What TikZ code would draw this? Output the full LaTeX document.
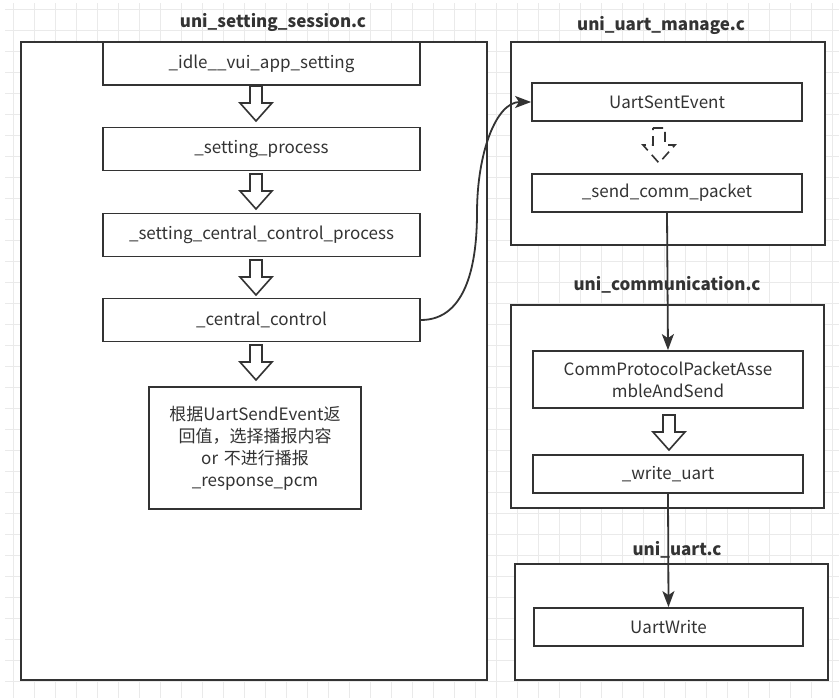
\documentclass[tikz,border=0pt]{standalone}
\usepackage{fontspec}
\setmainfont{Noto Sans CJK SC}
\usetikzlibrary{arrows.meta}
\definecolor{ink}{HTML}{333333}
\definecolor{gridc}{HTML}{EAEAEA}
\begin{document}
\begin{tikzpicture}[x=1pt,y=-1pt,
  container/.style={draw=ink, line width=1.8pt, fill=white, inner sep=0pt},
  fnbox/.style={draw=ink, line width=1.8pt, fill=white, inner sep=0pt,
    font=\fontsize{17}{22}\selectfont, text=ink, align=center},
  title/.style={font=\bfseries\fontsize{17}{20}\selectfont, text=ink, inner sep=0pt},
  conn/.style={draw=ink, line width=1.8pt, -{Stealth[length=16pt,width=12pt,inset=4pt]}},
  barrow/.pic={\draw[draw=ink, line width=1.6pt, fill=white, line join=miter]
    (-6,0) -- (6,0) -- (6,17) -- (16,17) -- (0,35) -- (-16,17) -- (-6,17) -- cycle;}
]
\useasboundingbox (0,0) rectangle (839,698);
% grid
\foreach \gx in {13,34,...,835} \draw[gridc, line width=0.8pt] (\gx,3) -- (\gx,698);
\foreach \gy in {9,30,...,698} \draw[gridc, line width=0.8pt] (5,\gy) -- (839,\gy);

% containers
\node[container, minimum width=466pt, minimum height=638pt] (left) at (254,361) {};
\node[container, minimum width=314pt, minimum height=203pt] (manage) at (668,143.5) {};
\node[container, minimum width=313pt, minimum height=203pt] (comm) at (667.5,406.5) {};
\node[container, minimum width=313pt, minimum height=116pt] (uart) at (671.5,622) {};

% titles
\node[title] (t1) at (273,22) {uni\_setting\_session.c};
\node[title] (t2) at (661,25) {uni\_uart\_manage.c};
\node[title] (t3) at (667,285) {uni\_communication.c};
\node[title] (t4) at (677,550) {uni\_uart.c};

% left column
\node[fnbox, minimum width=317pt, minimum height=43pt] (idle) at (261.5,63.5) {\_idle\_\_vui\_app\_setting};
\node[fnbox, minimum width=317pt, minimum height=43pt] (sp) at (261.5,149) {\_setting\_process};
\node[fnbox, minimum width=317pt, minimum height=43pt] (sccp) at (261.5,235) {\_setting\_central\_control\_process};
\node[fnbox, minimum width=317pt, minimum height=43pt] (cc) at (261.5,320) {\_central\_control};
\node[fnbox, minimum width=212pt, minimum height=122pt, text width=205pt] (resp) at (255,448)
  {根据UartSendEvent返\\回值，选择播报内容\\or 不进行播报\\\_response\_pcm};

\pic at (256,86) {barrow};
\pic at (256,174) {barrow};
\pic at (256,260) {barrow};
\pic at (256,345) {barrow};

% right column
\node[fnbox, minimum width=270pt, minimum height=38pt] (use) at (667,102) {UartSentEvent};
\node[fnbox, minimum width=270pt, minimum height=38pt] (scp) at (667,193) {\_send\_comm\_packet};
\pic[dash pattern=on 10pt off 6pt] at (659,128) {barrow};

\node[fnbox, minimum width=270pt, minimum height=57pt] (cpp) at (668,379.5) {CommProtocolPacketAsse\\mbleAndSend};
\node[fnbox, minimum width=270pt, minimum height=38pt] (wu) at (668,474) {\_write\_uart};
\pic at (669,415) {barrow};

\node[fnbox, minimum width=269pt, minimum height=38pt] (uw) at (668.5,627) {UartWrite};

% connectors
\coordinate (mid) at (477,213);
\draw[conn] (cc.east) .. controls +(47,0) and +(0,47) .. (mid)
  .. controls +(0,-60) and +(-35,0) .. (use.west);
\draw[conn] (scp.south) -- (cpp.north);
\draw[conn] (wu.south) -- (uw.north);
\end{tikzpicture}
\end{document}
